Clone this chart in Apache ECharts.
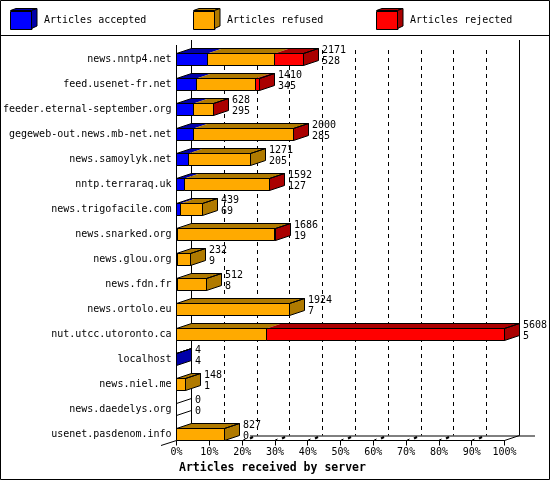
<!DOCTYPE html>
<html><head><meta charset="utf-8">
<style>html,body{margin:0;padding:0;background:#fff}#c{width:550px;height:480px}</style>
<script src="https://cdn.jsdelivr.net/npm/echarts@6/dist/echarts.min.js"></script>
</head><body><div id="c"></div>
<script>
const servers = ['news.nntp4.net','feed.usenet-fr.net','feeder.eternal-september.org','gegeweb-out.news.mb-net.net','news.samoylyk.net','nntp.terraraq.uk','news.trigofacile.com','news.snarked.org','news.glou.org','news.fdn.fr','news.ortolo.eu','nut.utcc.utoronto.ca','localhost','news.niel.me','news.daedelys.org','usenet.pasdenom.info'];
const totalLabels = [2171,1410,628,2000,1271,1592,439,1686,232,512,1924,5608,4,148,0,827];
const accepted = [528,345,295,285,205,127,69,19,9,8,7,5,4,1,0,0];
const refused = [1142,1007,328,1710,1066,1461,370,1664,223,504,1917,1528,0,147,0,827];
const rejected = [501,58,5,5,0,4,0,3,0,0,0,4075,0,0,0,0];
const percentTicks = [0,10,20,30,40,50,60,70,80,90,100];
const seriesNames = ['Articles accepted','Articles refused','Articles rejected'];
const frontColors = ['#0000ff','#ffaa00','#ff0000'];
const darkColors = ['#0000aa','#b07a00','#aa0000'];
const scaleMax = Math.max(...totalLabels);
const FONT = '"DejaVu Sans Mono"';
const DX = 15, DY = -5, BAR_H = 12;

const pct = v => v / scaleMax * 100;
const stacks = [accepted, refused, rejected];

function segData(s){
  return servers.map((_, i) => {
    let start = 0;
    for (let k = 0; k < s; k++) start += stacks[k][i];
    return [i, pct(start), pct(start + stacks[s][i])];
  });
}
function poly(points, style){ return {type:'polygon', shape:{points}, style, silent:true}; }
function line(a, b, stroke, width, dash){
  return {type:'line', shape:{x1:a[0],y1:a[1],x2:b[0],y2:b[1]},
    style:{stroke, lineWidth:width||1, lineDash:dash||null, fill:null}, silent:true};
}
function bandBottom(api, idx, x){
  const p = api.coord([x, idx]);
  return [Math.floor(p[0]) + 0.5, p[1] + 12.5];
}

function segSeries(s){
  return {
    name: seriesNames[s], type:'custom', coordinateSystem:'cartesian2d', z:3, clip:false,
    itemStyle:{color:frontColors[s], borderColor:'#000', borderWidth:1},
    encode:{x:[1,2], y:0},
    data: segData(s),
    renderItem(params, api){
      const idx = api.value(0), a = api.value(1), b = api.value(2);
      if (b - a <= 0) return {type:'group', children:[]};
      const p0 = bandBottom(api, idx, a), p1 = bandBottom(api, idx, b);
      const y = p0[1], t = y - BAR_H;
      return {type:'group', children:[
        poly([[p0[0],t],[p1[0],t],[p1[0]+DX,t+DY],[p0[0]+DX,t+DY]], {fill:darkColors[s]}),
        {type:'rect', shape:{x:p0[0],y:t,width:p1[0]-p0[0],height:BAR_H}, style:{fill:frontColors[s], stroke:'#000', lineWidth:1}, silent:true}
      ]};
    }
  };
}

const outlineSeries = {
  name:'outline', type:'custom', coordinateSystem:'cartesian2d', z:4, clip:false, silent:true,
  encode:{x:1, y:0},
  data: servers.map((_, i) => [i, pct(accepted[i]+refused[i]+rejected[i])]),
  renderItem(params, api){
    const idx = api.value(0), end = api.value(1);
    const p0 = bandBottom(api, idx, 0), p1 = bandBottom(api, idx, end);
    const y = p0[1], t = y - BAR_H, x0 = p0[0], x1 = p1[0];
    const last = rejected[idx] > 0 ? 2 : refused[idx] > 0 ? 1 : accepted[idx] > 0 ? 0 : -1;
    const kids = [];
    const side = [[x1,t],[x1+DX,t+DY],[x1+DX,y+DY],[x1,y]];
    kids.push(poly(side, {fill: last >= 0 ? darkColors[last] : 'none', stroke: last >= 0 ? '#000' : 'none', lineWidth:1}));
    if (last >= 0) kids.push(poly([[x0,t],[x1,t],[x1+DX,t+DY],[x0+DX,t+DY]], {fill:'none', stroke:'#000', lineWidth:1}));
    else { kids.push(line([x0,t],[x0+DX,t+DY],'#000')); kids.push(line([x0,y],[x0+DX,y+DY],'#000')); }
    const lx = x1 + DX + 3.5;
    const font = '10px ' + FONT;
    kids.push({type:'text', silent:true, style:{x:lx, y:y-15, text:String(totalLabels[idx]), font, fill:'#000', verticalAlign:'middle', align:'left'}});
    kids.push({type:'text', silent:true, style:{x:lx, y:y-4, text:String(accepted[idx]), font, fill:'#000', verticalAlign:'middle', align:'left'}});
    return {type:'group', children:kids};
  }
};

const wallSeries = {
  name:'walls', type:'custom', coordinateSystem:'cartesian2d', z:1, clip:false, silent:true,
  encode:{x:0},
  data: percentTicks.map(v => [v]),
  renderItem(params, api){
    const v = api.value(0);
    const f = bandBottom(api, servers.length - 1, v);
    const fx = f[0], fy = f[1];
    const bx = fx + DX, by = fy + DY;
    const kids = [];
    if (v === 0 || v === 100) kids.push(line([bx,40],[bx,by],'#000'));
    else kids.push(line([bx,50],[bx,by],'#000',1,[4,4]));
    if (v === 0) {
      kids.push(line([fx-15.5,fy+5],[fx,fy],'#000'));
      kids.push(line([fx,45],[fx,fy],'#000'));
      kids.push(line([250,by+0.5],[535,by+0.5],'#000'));
    } else if (v === 100) {
      kids.push(line([fx,fy],[bx,by],'#000'));
    } else {
      kids.push(line([fx,fy],[fx+3,fy-1.5],'#000'));
      kids.push(line([fx+7.5,fy-2],[fx+10.5,fy-3.5],'#000',2));
    }
    return {type:'group', children:kids};
  }
};

function sideSwatch(x, c){
  return {type:'polygon', silent:true, z:10, shape:{points:[[x,10.5],[x+5.5,8.5],[x+5.5,26],[x,28.5]]},
    style:{fill:c, stroke:'#000', lineWidth:1}};
}
function topSwatch(x, c){
  return {type:'polygon', silent:true, z:10, shape:{points:[[x-21,10.5],[x-15.5,8.5],[x+5.5,8.5],[x,10.5]]},
    style:{fill:c, stroke:'#000', lineWidth:1}};
}
const legendLefts = [10, 193, 376];

const chart = echarts.init(document.getElementById('c'), null, {renderer:'canvas', width:550, height:480});
chart.setOption({
  animation:false,
  backgroundColor:'#fff',
  textStyle:{fontFamily:FONT},
  title:{text:'Articles received by server', left:179, top:462,
    textStyle:{fontFamily:FONT, fontWeight:'bold', fontSize:11.5, color:'#000', lineHeight:12}, padding:0},
  legend: seriesNames.map((n, i) => ({
    data:[{name:n, icon:'rect'}], left:legendLefts[i], top:11, padding:0, itemWidth:21.5, itemHeight:18,
    selectedMode:false,
    itemStyle:{borderColor:'#000', borderWidth:1},
    textStyle:{fontFamily:FONT, fontSize:10, color:'#000', padding:[0,0,0,7]}
  })),
  grid:{left:176.5, right:45.5, top:40.5, bottom:39.5, containLabel:false},
  xAxis:{type:'value', min:0, max:100, interval:10,
    axisLine:{show:true, onZero:false, lineStyle:{color:'#000', width:1}},
    axisTick:{show:true, length:5, lineStyle:{color:'#000', width:1}},
    splitLine:{show:false},
    axisLabel:{color:'#000', fontFamily:FONT, fontSize:10, margin:7, formatter:'{value}%', hideOverlap:false, showMinLabel:true, showMaxLabel:true}},
  yAxis:{type:'category', inverse:true, data:servers,
    axisLine:{show:false}, axisTick:{show:false}, splitLine:{show:false},
    axisLabel:{color:'#000', fontFamily:FONT, fontSize:10, margin:5, interval:0, verticalAlign:'top', lineHeight:12}},
  series:[wallSeries, segSeries(0), segSeries(1), segSeries(2), outlineSeries],
  graphic:{elements:[
    {type:'rect', silent:true, z:0, shape:{x:0.5,y:0.5,width:549,height:479}, style:{fill:'none',stroke:'#000',lineWidth:1}},
    {type:'line', silent:true, z:0, shape:{x1:0,y1:35.5,x2:550,y2:35.5}, style:{stroke:'#000',lineWidth:1}},
    ...legendLefts.flatMap((l, i) => [topSwatch(l+21.5, darkColors[i]), sideSwatch(l+21.5, darkColors[i])])
  ]}
});
</script></body></html>
